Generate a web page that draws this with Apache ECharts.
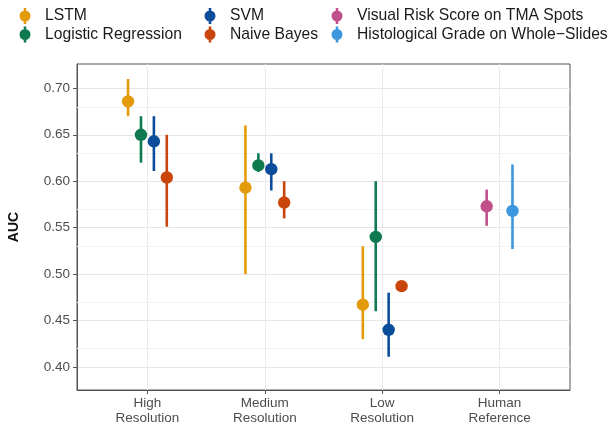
<!DOCTYPE html>
<html>
<head>
<meta charset="utf-8">
<title>AUC by image resolution</title>
<script src="https://cdn.jsdelivr.net/npm/echarts@6.0.0/dist/echarts.min.js"></script>
<style>
  html, body { margin: 0; padding: 0; background: #fff; }
  #chart { width: 615px; height: 423px; }
</style>
</head>
<body>
<div id="chart"></div>
<script>
// x groups
var categories = ["High\nResolution", "Medium\nResolution", "Low\nResolution", "Human\nReference"];

// [AUC, lower, upper] per group, null where the method was not evaluated
var lstm = [[0.686, 0.670, 0.710], [0.593, 0.500, 0.660], [0.467, 0.430, 0.530], null];
var logistic = [[0.650, 0.620, 0.670], [0.617, 0.610, 0.630], [0.540, 0.460, 0.600], null];
var svm = [[0.643, 0.611, 0.670], [0.613, 0.590, 0.630], [0.440, 0.411, 0.480], null];
var naiveBayes = [[0.604, 0.551, 0.650], [0.577, 0.560, 0.600], [0.487, 0.485, 0.489], null];
var visualRisk = [null, null, null, [0.573, 0.552, 0.591]];
var histGrade = [null, null, null, [0.568, 0.527, 0.618]];

var seriesNames = ["LSTM", "Logistic Regression", "SVM", "Naive Bayes",
  "Visual Risk Score on TMA Spots", "Histological Grade on Whole\u2212Slides"];
var seriesValues = [lstm, logistic, svm, naiveBayes, visualRisk, histGrade];

var yTicks = [0.40, 0.45, 0.50, 0.55, 0.60, 0.65, 0.70];
var yMinor = [0.425, 0.475, 0.525, 0.575, 0.625, 0.675];
var xTicks = [0, 1, 2, 3];

var colors = ["#E39A0B", "#0F7A50", "#0B4D9B", "#C9450C", "#C0508A", "#3C97DE"];
var font = "'Liberation Sans', Arial, sans-serif";

var chart = echarts.init(document.getElementById("chart"));

// dodge like ggplot: series that have a value in a group share the dodge width
var DODGE = 0.44;
function dodgeOffset(si, g) {
  var present = [];
  seriesValues.forEach(function (vals, i) {
    if (vals[g]) present.push(i);
  });
  var n = present.length;
  var rank = present.indexOf(si);
  return (rank - (n - 1) / 2) * DODGE / n;
}

function makeRender(si) {
  return function (params, api) {
    var g = api.value(0);
    var x = g + dodgeOffset(si, g);
    var mid = api.coord([x, api.value(1)]);
    var lo = api.coord([x, api.value(2)]);
    var hi = api.coord([x, api.value(3)]);
    var color = api.visual("color");
    return {
      type: "group",
      children: [
        { type: "line", shape: { x1: lo[0], y1: lo[1], x2: hi[0], y2: hi[1] },
          style: { stroke: color, lineWidth: 2.6 } },
        { type: "circle", shape: { cx: mid[0], cy: mid[1], r: 6.2 },
          style: { fill: color } }
      ]
    };
  };
}

var series = seriesNames.map(function (name, si) {
  var data = [];
  seriesValues[si].forEach(function (v, g) {
    if (v) data.push([g, v[0], v[1], v[2]]);
  });
  return {
    name: name,
    type: "custom",
    renderItem: makeRender(si),
    data: data,
    encode: { x: 0, y: 1 },
    itemStyle: { color: colors[si] },
    z: 3,
    animation: false
  };
});

// minor horizontal grid lines
series.push({
  type: "line",
  data: [],
  z: 1,
  silent: true,
  markLine: {
    silent: true,
    z: 1,
    symbol: ["none", "none"],
    label: { show: false },
    lineStyle: { color: "#F2F2F2", width: 1, type: "solid" },
    animation: false,
    data: yMinor.map(function (v) { return { yAxis: v }; })
  }
});

// legend key: point with a short range line
var keyIcon = "path://M-1.3,-8L1.3,-8L1.3,8L-1.3,8Z M0,-5.5A5.5,5.5 0 1,1 0,5.5A5.5,5.5 0 1,1 0,-5.5Z";
function legendAt(names, left) {
  return {
    data: names,
    orient: "vertical",
    left: left,
    top: 8,
    padding: 0,
    itemGap: 2.5,
    itemWidth: 30,
    itemHeight: 16,
    icon: keyIcon,
    selectedMode: false,
    textStyle: { fontFamily: font, fontSize: 15.7, color: "#1a1a1a" }
  };
}

var option = {
  backgroundColor: "#fff",
  animation: false,
  color: colors,
  legend: [
    legendAt(seriesNames.slice(0, 2), 19.5),
    legendAt(seriesNames.slice(2, 4), 204.5),
    legendAt(seriesNames.slice(4, 6), 331.5)
  ],
  grid: {
    left: 77, right: 45, top: 64, bottom: 33,
    show: true, borderColor: "#555", borderWidth: 1,
    outerBoundsMode: "none"
  },
  xAxis: {
    type: "value",
    min: -0.6,
    max: 3.6,
    axisLine: { show: true, onZero: false, lineStyle: { color: "#555", width: 1 } },
    axisTick: { show: true, length: 4, customValues: xTicks, lineStyle: { color: "#555" } },
    axisLabel: {
      customValues: xTicks,
      margin: 6,
      fontFamily: font, fontSize: 13.5, color: "#4D4D4D", lineHeight: 15,
      formatter: function (v) { return categories[Math.round(v)]; }
    },
    splitLine: { show: true, lineStyle: { color: "#EBEBEB", width: 1 } }
  },
  yAxis: {
    type: "value",
    min: 0.3752,
    max: 0.7262,
    name: "AUC",
    nameLocation: "middle",
    nameGap: 56,
    nameTextStyle: { fontFamily: font, fontSize: 14, fontWeight: "bold", color: "#111" },
    axisLine: { show: true, onZero: false, lineStyle: { color: "#555", width: 1 } },
    axisTick: { show: true, length: 4, customValues: yTicks, lineStyle: { color: "#555" } },
    axisLabel: {
      customValues: yTicks,
      margin: 7,
      fontFamily: font, fontSize: 13.5, color: "#4D4D4D",
      formatter: function (v) { return v.toFixed(2); }
    },
    splitLine: { show: true, lineStyle: { color: "#E6E6E6", width: 1 } }
  },
  series: series
};

chart.setOption(option);
</script>
</body>
</html>
